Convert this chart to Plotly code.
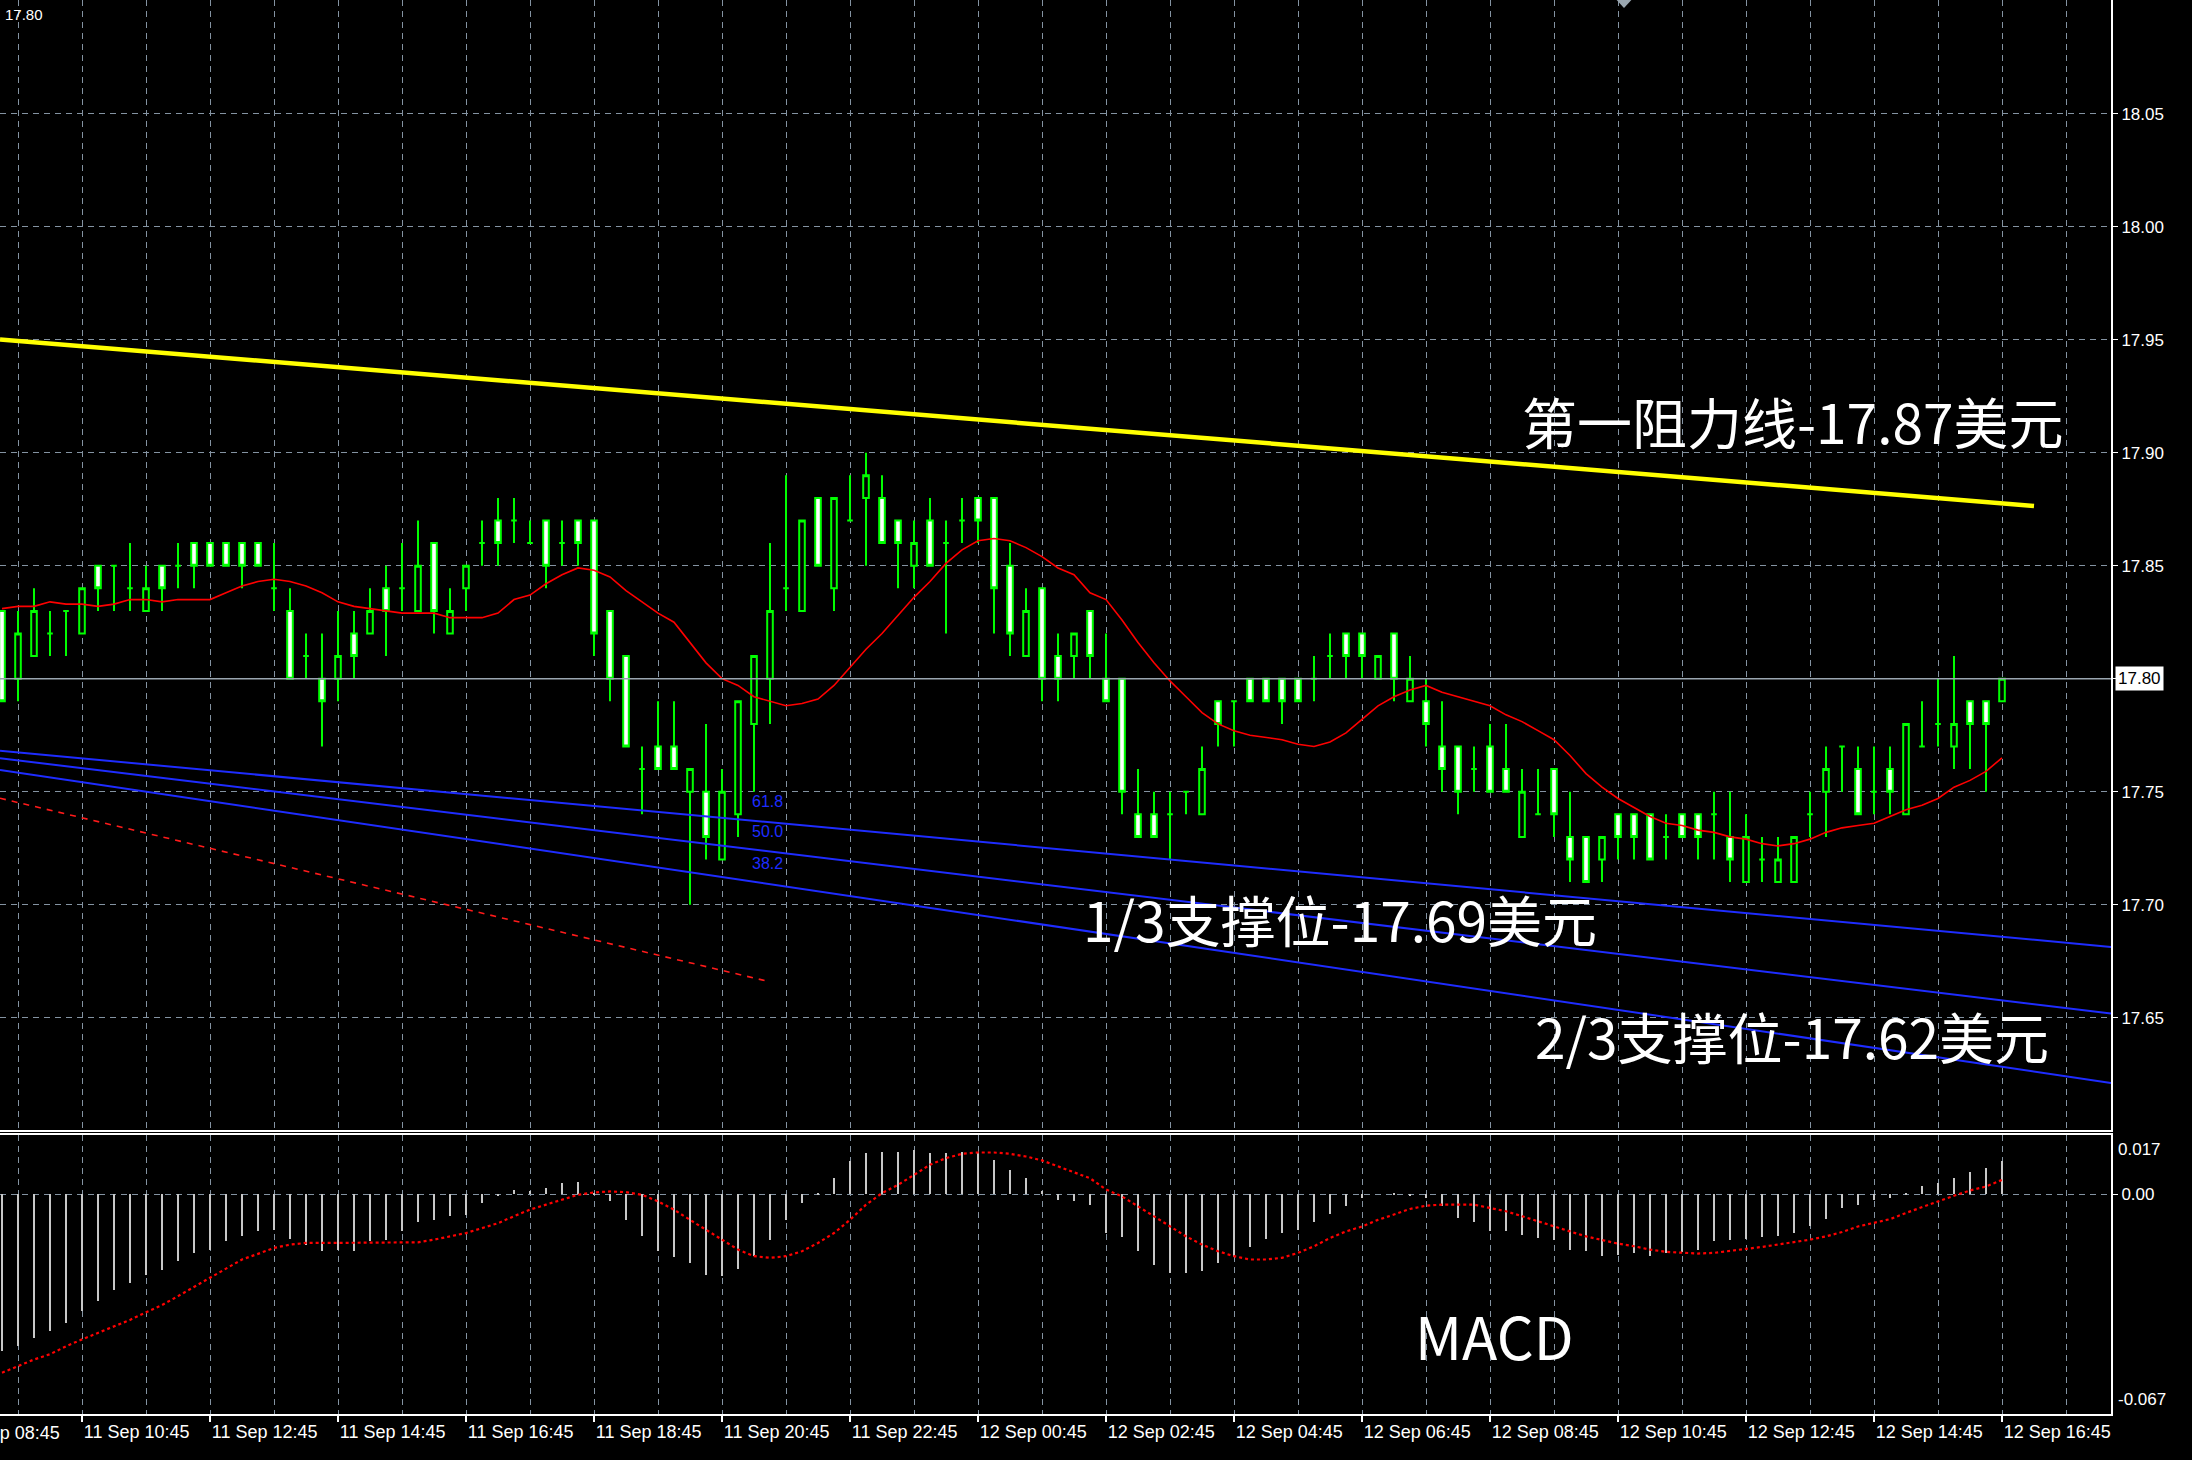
import pandas as pd
import plotly.graph_objects as go

# ---------------- data (M15 candles, 11 Sep 09:30 -> 12 Sep 16:45) ----------------
start_time = "2019-09-11 09:30"
opens = [17.83,17.80,17.81,17.82,17.83,17.82,17.85,17.85,17.84,17.83,17.85,17.85,17.86,17.86,17.86,17.86,17.86,17.84,17.83,17.81,
         17.80,17.80,17.82,17.82,17.84,17.84,17.83,17.86,17.82,17.84,17.86,17.87,17.87,17.86,17.87,17.86,17.87,17.87,17.83,17.81,
         17.76,17.77,17.77,17.75,17.75,17.72,17.74,17.78,17.80,17.84,17.83,17.88,17.84,17.87,17.88,17.88,17.87,17.85,17.87,17.86,
         17.87,17.88,17.88,17.85,17.81,17.84,17.81,17.81,17.83,17.80,17.80,17.74,17.74,17.74,17.75,17.74,17.79,17.79,17.80,17.80,
         17.80,17.80,17.80,17.81,17.82,17.82,17.80,17.82,17.79,17.79,17.77,17.77,17.76,17.77,17.76,17.73,17.74,17.76,17.73,17.73,
         17.72,17.74,17.74,17.74,17.73,17.74,17.74,17.74,17.73,17.71,17.72,17.71,17.71,17.74,17.75,17.77,17.76,17.75,17.76,17.74,
         17.77,17.78,17.77,17.79,17.79,17.79]
highs = [17.83,17.83,17.84,17.83,17.83,17.84,17.85,17.85,17.86,17.85,17.85,17.86,17.86,17.86,17.86,17.86,17.86,17.86,17.84,17.82,
         17.82,17.83,17.83,17.84,17.85,17.86,17.87,17.86,17.84,17.85,17.87,17.88,17.88,17.87,17.87,17.87,17.87,17.87,17.83,17.81,
         17.77,17.79,17.79,17.76,17.78,17.76,17.79,17.81,17.86,17.89,17.87,17.88,17.88,17.89,17.90,17.89,17.87,17.87,17.88,17.87,
         17.88,17.88,17.88,17.86,17.84,17.84,17.82,17.82,17.83,17.82,17.80,17.76,17.75,17.75,17.75,17.77,17.79,17.79,17.80,17.80,
         17.80,17.80,17.81,17.82,17.82,17.82,17.81,17.82,17.81,17.80,17.79,17.77,17.77,17.78,17.78,17.76,17.76,17.76,17.75,17.73,
         17.73,17.74,17.74,17.74,17.74,17.74,17.74,17.75,17.75,17.74,17.73,17.73,17.73,17.75,17.77,17.77,17.77,17.77,17.77,17.78,
         17.79,17.80,17.81,17.79,17.79,17.80]
lows = [17.79,17.79,17.81,17.81,17.81,17.82,17.83,17.83,17.83,17.83,17.83,17.84,17.84,17.85,17.85,17.84,17.85,17.83,17.80,17.80,
        17.77,17.79,17.80,17.82,17.81,17.83,17.83,17.82,17.82,17.83,17.85,17.85,17.86,17.86,17.84,17.85,17.85,17.81,17.79,17.77,
        17.74,17.76,17.76,17.70,17.72,17.72,17.73,17.75,17.78,17.83,17.83,17.85,17.83,17.87,17.85,17.86,17.84,17.84,17.85,17.82,
        17.86,17.86,17.82,17.81,17.81,17.79,17.79,17.80,17.80,17.79,17.74,17.73,17.73,17.72,17.74,17.74,17.77,17.77,17.79,17.79,
        17.78,17.79,17.79,17.80,17.80,17.80,17.80,17.79,17.79,17.77,17.75,17.74,17.75,17.75,17.75,17.73,17.74,17.73,17.71,17.71,
        17.71,17.72,17.72,17.72,17.72,17.73,17.72,17.72,17.71,17.71,17.71,17.71,17.71,17.73,17.73,17.75,17.74,17.74,17.74,17.74,
        17.77,17.77,17.76,17.76,17.75,17.79]
closes = [17.79,17.82,17.83,17.82,17.83,17.84,17.84,17.85,17.84,17.84,17.84,17.85,17.85,17.85,17.85,17.85,17.85,17.84,17.80,17.81,
          17.79,17.81,17.81,17.83,17.83,17.84,17.85,17.83,17.83,17.85,17.86,17.86,17.87,17.86,17.85,17.86,17.86,17.82,17.80,17.77,
          17.76,17.76,17.76,17.76,17.73,17.75,17.79,17.81,17.83,17.84,17.87,17.85,17.88,17.87,17.89,17.86,17.86,17.86,17.85,17.86,
          17.87,17.87,17.84,17.82,17.83,17.80,17.80,17.82,17.81,17.79,17.75,17.73,17.73,17.74,17.75,17.76,17.78,17.79,17.79,17.79,
          17.79,17.79,17.80,17.81,17.81,17.81,17.81,17.80,17.80,17.78,17.76,17.75,17.76,17.75,17.75,17.75,17.74,17.74,17.72,17.71,
          17.73,17.73,17.73,17.72,17.73,17.73,17.73,17.74,17.72,17.73,17.72,17.72,17.73,17.74,17.76,17.77,17.74,17.75,17.75,17.78,
          17.77,17.78,17.78,17.78,17.78,17.80]
ma_line = [17.831,17.832,17.832,17.834,17.833,17.833,17.832,17.833,17.835,17.835,17.834,17.835,17.835,17.835,17.838,17.841,17.843,17.844,17.843,17.841,
           17.838,17.834,17.832,17.831,17.830,17.829,17.829,17.829,17.827,17.827,17.827,17.829,17.835,17.837,17.842,17.846,17.849,17.848,17.845,17.839,
           17.834,17.829,17.825,17.816,17.807,17.800,17.797,17.792,17.790,17.788,17.789,17.791,17.797,17.805,17.813,17.820,17.828,17.836,17.843,17.851,
           17.857,17.861,17.862,17.861,17.858,17.854,17.849,17.846,17.838,17.835,17.826,17.816,17.807,17.799,17.792,17.785,17.780,17.777,17.775,17.774,
           17.773,17.771,17.770,17.772,17.776,17.782,17.788,17.792,17.795,17.797,17.794,17.792,17.790,17.788,17.784,17.781,17.777,17.773,17.766,17.758,
           17.752,17.747,17.743,17.739,17.736,17.735,17.733,17.732,17.730,17.729,17.727,17.726,17.727,17.729,17.732,17.734,17.735,17.736,17.739,17.742,
           17.744,17.747,17.752,17.755,17.759,17.765]
macd_hist = [-0.0474,-0.0459,-0.0434,-0.0414,-0.0389,-0.0353,-0.0323,-0.0288,-0.0268,-0.0243,-0.0228,-0.0202,-0.0177,-0.0167,-0.0142,-0.0125,-0.0112,-0.0107,-0.0135,-0.0152,
             -0.0172,-0.0167,-0.0172,-0.0142,-0.0137,-0.0112,-0.0082,-0.0077,-0.0066,-0.0061,-0.0026,-0.0004,0.0014,0.0009,0.0019,0.0034,0.0039,0.0004,-0.0021,-0.0077,
             -0.0125,-0.0172,-0.0190,-0.0207,-0.0243,-0.0248,-0.0226,-0.0187,-0.0137,-0.0077,-0.0026,0.0003,0.0049,0.0100,0.0125,0.0128,0.0130,0.0135,0.0125,0.0125,
             0.0128,0.0128,0.0105,0.0075,0.0049,0.0010,-0.0016,-0.0021,-0.0031,-0.0117,-0.0130,-0.0172,-0.0215,-0.0237,-0.0239,-0.0232,-0.0208,-0.0188,-0.0160,-0.0135,
             -0.0117,-0.0107,-0.0082,-0.0058,-0.0034,-0.0010,0.0000,0.0003,-0.0003,-0.0010,-0.0034,-0.0072,-0.0082,-0.0112,-0.0112,-0.0122,-0.0132,-0.0137,-0.0167,-0.0172,
             -0.0185,-0.0182,-0.0177,-0.0185,-0.0177,-0.0175,-0.0167,-0.0142,-0.0139,-0.0134,-0.0129,-0.0127,-0.0117,-0.0097,-0.0074,-0.0041,-0.0031,-0.0016,-0.0011,0.0004,
             0.0026,0.0034,0.0049,0.0069,0.0079,0.0100]
macd_signal = [-0.0540,-0.0520,-0.0500,-0.0484,-0.0460,-0.0439,-0.0420,-0.0399,-0.0380,-0.0357,-0.0335,-0.0308,-0.0280,-0.0253,-0.0225,-0.0197,-0.0180,-0.0162,-0.0152,-0.0147,
               -0.0147,-0.0147,-0.0147,-0.0147,-0.0147,-0.0147,-0.0145,-0.0137,-0.0127,-0.0117,-0.0102,-0.0087,-0.0066,-0.0046,-0.0031,-0.0016,-0.0001,0.0006,0.0009,0.0007,
               -0.0001,-0.0021,-0.0046,-0.0077,-0.0107,-0.0137,-0.0167,-0.0187,-0.0192,-0.0187,-0.0172,-0.0147,-0.0117,-0.0077,-0.0031,0.0004,0.0029,0.0059,0.0090,0.0110,
               0.0123,0.0127,0.0127,0.0123,0.0115,0.0103,0.0085,0.0069,0.0049,0.0015,-0.0006,-0.0036,-0.0066,-0.0097,-0.0127,-0.0152,-0.0172,-0.0187,-0.0197,-0.0197,
               -0.0192,-0.0177,-0.0157,-0.0132,-0.0112,-0.0097,-0.0077,-0.0061,-0.0044,-0.0034,-0.0031,-0.0031,-0.0031,-0.0041,-0.0051,-0.0066,-0.0082,-0.0097,-0.0112,-0.0127,
               -0.0139,-0.0149,-0.0157,-0.0167,-0.0174,-0.0177,-0.0179,-0.0177,-0.0172,-0.0165,-0.0159,-0.0152,-0.0145,-0.0137,-0.0127,-0.0114,-0.0097,-0.0087,-0.0075,-0.0056,
               -0.0038,-0.0021,-0.0004,0.0012,0.0024,0.0044]

# drawn objects (trend lines / channel), endpoints in time & price
view_start = "2019-09-11 09:28:07.5"
view_end = "2019-09-12 18:27:11"
resist_times = [view_start, "2019-09-12 17:15"]
resist_prices = [17.9501, 17.8764]
channel_times = [view_start, view_end]
channel_a = [17.7681, 17.6813]
channel_b = [17.7648, 17.6518]
channel_c = [17.7596, 17.6211]
reddash_times = [view_start, "2019-09-11 21:27"]
reddash_prices = [17.7471, 17.6662]
fib_label_time = "2019-09-11 21:11"
fib_labels = ["61.8", "50.0", "38.2"]
fib_label_prices = [17.7455, 17.7323, 17.7184]

price_ticks = [17.65, 17.70, 17.75, 17.80, 17.85, 17.90, 17.95, 18.00, 18.05]
price_range = [17.6003, 18.1003]
macd_range = [-0.0665, 0.0180]
macd_top_label, macd_bottom_label = "0.017", "-0.067"
cut_label_time = "2019-09-11 08:45"

texts = ["第一阻力线-17.87美元", "1/3支撑位-17.69美元", "2/3支撑位-17.62美元", "MACD"]

# ---------------- figure ----------------
times = pd.date_range(start_time, periods=len(opens), freq="15min")
GRID = "#8493a2"
GREEN = "#00ff00"
W, H = 2192, 1460
ML, MR, MT, MB = 0, 81, 0, 46
plot_w = W - ML - MR
plot_h = H - MT - MB
main_bottom_px = 1130
macd_top_px = 1135
main_dom = [(plot_h - main_bottom_px) / plot_h, 1.0]
macd_dom = [0.0, (plot_h - macd_top_px) / plot_h]

fig = go.Figure()

fig.add_trace(go.Scatter(x=reddash_times, y=reddash_prices, mode="lines",
                         line=dict(color="#ff1a1a", width=1.6, dash="6px,6px"), xaxis="x", yaxis="y"))
for arr in (channel_a, channel_b, channel_c):
    fig.add_trace(go.Scatter(x=channel_times, y=arr, mode="lines",
                             line=dict(color="#1e2cff", width=2), xaxis="x", yaxis="y"))
fig.add_trace(go.Scatter(x=resist_times, y=resist_prices, mode="lines",
                         line=dict(color="#ffff00", width=4.5), xaxis="x", yaxis="y"))

fig.add_trace(go.Candlestick(
    x=times, open=opens, high=highs, low=lows, close=closes,
    increasing=dict(line=dict(color=GREEN, width=2), fillcolor="#000000"),
    decreasing=dict(line=dict(color=GREEN, width=2), fillcolor="#ffffff"),
    whiskerwidth=0, xaxis="x", yaxis="y"))

fig.add_trace(go.Scatter(x=times, y=ma_line, mode="lines",
                         line=dict(color="#ff0000", width=1.6), xaxis="x", yaxis="y"))

# MACD panel
fig.add_trace(go.Bar(x=times, y=macd_hist, width=90000, marker=dict(color="#c8c8c8", line=dict(width=0)),
                     xaxis="x2", yaxis="y2"))
fig.add_trace(go.Scatter(x=times, y=macd_signal, mode="lines",
                         line=dict(color="#ff0000", width=2.2, dash="dot"), xaxis="x2", yaxis="y2"))

tickfont = dict(family="Liberation Sans, Arial, sans-serif", size=17, color="#ffffff")
xfont = dict(family="Liberation Sans, Arial, sans-serif", size=18, color="#ffffff")
xcommon = dict(type="date", range=[view_start, view_end], showgrid=True, gridcolor=GRID, gridwidth=1.4,
               griddash="6px,5px", tick0="2019-09-11 08:45", dtick=7200000,
               minor=dict(dtick=3600000, tick0="2019-09-11 09:45", showgrid=True, gridcolor=GRID,
                          gridwidth=1.4, griddash="6px,5px"),
               showline=True, linecolor="#ffffff", linewidth=2, zeroline=False)

fig.update_layout(
    width=W, height=H, margin=dict(l=ML, r=MR, t=MT, b=MB, pad=0),
    paper_bgcolor="#000000", plot_bgcolor="#000000", showlegend=False, hovermode=False,
    boxgap=0.5, bargap=0,
    xaxis=dict(domain=[0, 1], anchor="y", showticklabels=False, ticks="", rangeslider=dict(visible=False), **xcommon),
    xaxis2=dict(domain=[0, 1], anchor="y2", matches="x", showticklabels=True, ticks="outside", ticklen=6,
                tickcolor="#ffffff", tickwidth=1.5, tickformat="%d %b %H:%M", ticklabelposition="outside right",
                tickfont=xfont, mirror=True, **xcommon),
    yaxis=dict(domain=main_dom, anchor="x", side="right", range=price_range,
               tickvals=price_ticks, ticktext=["" if abs(v - closes[-1]) < 1e-9 else f"{v:.2f}" for v in price_ticks],
               showgrid=True, gridcolor=GRID, gridwidth=1.4, griddash="6px,5px", zeroline=False,
               ticks="outside", ticklen=5, tickcolor="#ffffff", tickfont=tickfont,
               showline=True, linecolor="#ffffff", linewidth=2),
    yaxis2=dict(domain=macd_dom, anchor="x2", side="right", range=macd_range,
                tickvals=[0], ticktext=["0.00"], showgrid=True, gridcolor=GRID, gridwidth=1.4,
                griddash="6px,5px", zeroline=False, ticks="outside", ticklen=5, tickcolor="#ffffff",
                tickfont=tickfont, showline=True, linecolor="#ffffff", linewidth=2),
)

# current price line
fig.add_shape(type="line", xref="x domain", yref="y", x0=0, x1=1, y0=closes[-1], y1=closes[-1],
              line=dict(color="#9aa6b0", width=1.6), layer="above")

ann = []
# current price box
ann.append(dict(xref="paper", yref="y", x=1, y=closes[-1], xanchor="left", yanchor="middle", xshift=4,
                text=f"{closes[-1]:.2f}", showarrow=False, bgcolor="#ffffff", borderpad=2,
                font=dict(family="Liberation Sans, Arial, sans-serif", size=17, color="#000000")))
# top-left price
ann.append(dict(xref="paper", yref="paper", x=0, y=1, xanchor="left", yanchor="top", xshift=3, yshift=-4,
                text=f"{closes[-1]:.2f}", showarrow=False,
                font=dict(family="Liberation Sans, Arial, sans-serif", size=15, color="#ffffff")))
# fib labels
for lab, pr in zip(fib_labels, fib_label_prices):
    ann.append(dict(xref="x", yref="y", x=fib_label_time, y=pr, xanchor="left", yanchor="middle",
                    text=lab, showarrow=False,
                    font=dict(family="Liberation Sans, Arial, sans-serif", size=16, color="#1e2cff")))
# MACD axis extreme labels
ann.append(dict(xref="paper", yref="paper", x=1, y=macd_dom[1], xanchor="left", yanchor="top", xshift=5, yshift=-3,
                text=macd_top_label, showarrow=False, font=tickfont))
ann.append(dict(xref="paper", yref="paper", x=1, y=0, xanchor="left", yanchor="bottom", xshift=5, yshift=3,
                text=macd_bottom_label, showarrow=False, font=tickfont))
# cut-off first time label at left edge
t0 = pd.Timestamp(view_start); t1 = pd.Timestamp(view_end)
frac = (pd.Timestamp(cut_label_time) - t0) / (t1 - t0)
ann.append(dict(xref="paper", yref="paper", x=frac, y=0, xanchor="left", yanchor="top", yshift=-7, xshift=-2,
                text=pd.Timestamp(cut_label_time).strftime("%d %b %H:%M"), showarrow=False, font=xfont))
# big labels
for txt, (cx_px, cy_px), fsize in zip(texts, [(1792, 420), (1340, 918), (1792, 1035), (1494, 1335)], [55, 55, 55, 58]):
    ann.append(dict(xref="paper", yref="paper", x=cx_px / plot_w, y=1 - cy_px / plot_h,
                    xanchor="center", yanchor="middle", text=txt, showarrow=False,
                    font=dict(family="Noto Sans CJK SC, sans-serif", size=fsize, color="#ffffff")))
fig.update_layout(annotations=ann)

# chart-shift marker at top
cx = 1624 / plot_w
fig.add_shape(type="path", xref="paper", yref="paper",
              path=f"M {cx-0.0035} 1 L {cx+0.0035} 1 L {cx} {1-8/plot_h} Z",
              fillcolor="#9aa6b0", line=dict(width=0))

fig.write_html("out.html", config={"displayModeBar": False},
               post_script="document.body.style.margin='0';document.body.style.background='#000';")
